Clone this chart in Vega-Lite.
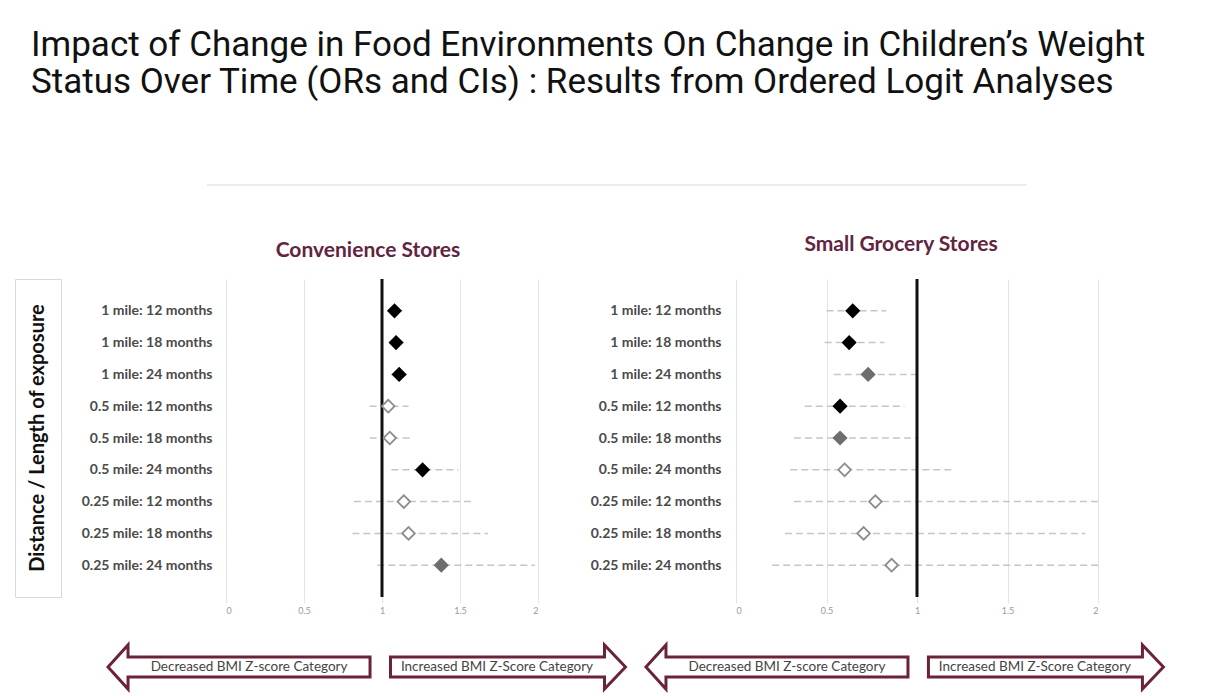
{
  "$schema": "https://vega.github.io/schema/vega-lite/v6.json",
  "padding": {"left": 14, "top": 28, "right": 5, "bottom": 5},
  "background": "white",
  "title": {
    "text": ["Impact of Change in Food Environments On Change in Children’s Weight", "Status Over Time (ORs and CIs) : Results from Ordered Logit Analyses"],
    "anchor": "start", "frame": "group",
    "font": "Roboto", "fontSize": 35, "fontWeight": "normal", "lineHeight": 37,
    "color": "#111111", "dx": 16, "offset": 84
  },
  "config": {"view": {"stroke": null}, "font": "Lato"},
  "datasets": {
    "one": [{"k": 1}],
    "or": [
      {"store": "Convenience Stores", "label": "1 mile: 12 months", "oddsRatio": 1.08, "ciLow": 1.04, "ciHigh": 1.13, "sig": "p<0.05"},
      {"store": "Convenience Stores", "label": "1 mile: 18 months", "oddsRatio": 1.09, "ciLow": 1.05, "ciHigh": 1.14, "sig": "p<0.05"},
      {"store": "Convenience Stores", "label": "1 mile: 24 months", "oddsRatio": 1.11, "ciLow": 1.06, "ciHigh": 1.16, "sig": "p<0.05"},
      {"store": "Convenience Stores", "label": "0.5 mile: 12 months", "oddsRatio": 1.04, "ciLow": 0.92, "ciHigh": 1.17, "sig": "ns"},
      {"store": "Convenience Stores", "label": "0.5 mile: 18 months", "oddsRatio": 1.05, "ciLow": 0.92, "ciHigh": 1.20, "sig": "ns"},
      {"store": "Convenience Stores", "label": "0.5 mile: 24 months", "oddsRatio": 1.26, "ciLow": 1.06, "ciHigh": 1.49, "sig": "p<0.05"},
      {"store": "Convenience Stores", "label": "0.25 mile: 12 months", "oddsRatio": 1.14, "ciLow": 0.82, "ciHigh": 1.57, "sig": "ns"},
      {"store": "Convenience Stores", "label": "0.25 mile: 18 months", "oddsRatio": 1.17, "ciLow": 0.81, "ciHigh": 1.68, "sig": "ns"},
      {"store": "Convenience Stores", "label": "0.25 mile: 24 months", "oddsRatio": 1.38, "ciLow": 0.97, "ciHigh": 1.98, "sig": "p<0.10"},
      {"store": "Small Grocery Stores", "label": "1 mile: 12 months", "oddsRatio": 0.645, "ciLow": 0.50, "ciHigh": 0.83, "sig": "p<0.05"},
      {"store": "Small Grocery Stores", "label": "1 mile: 18 months", "oddsRatio": 0.625, "ciLow": 0.49, "ciHigh": 0.82, "sig": "p<0.05"},
      {"store": "Small Grocery Stores", "label": "1 mile: 24 months", "oddsRatio": 0.73, "ciLow": 0.54, "ciHigh": 1.02, "sig": "p<0.10"},
      {"store": "Small Grocery Stores", "label": "0.5 mile: 12 months", "oddsRatio": 0.575, "ciLow": 0.38, "ciHigh": 0.93, "sig": "p<0.05"},
      {"store": "Small Grocery Stores", "label": "0.5 mile: 18 months", "oddsRatio": 0.575, "ciLow": 0.32, "ciHigh": 1.00, "sig": "p<0.10"},
      {"store": "Small Grocery Stores", "label": "0.5 mile: 24 months", "oddsRatio": 0.60, "ciLow": 0.30, "ciHigh": 1.20, "sig": "ns"},
      {"store": "Small Grocery Stores", "label": "0.25 mile: 12 months", "oddsRatio": 0.77, "ciLow": 0.32, "ciHigh": 2.00, "sig": "ns"},
      {"store": "Small Grocery Stores", "label": "0.25 mile: 18 months", "oddsRatio": 0.705, "ciLow": 0.27, "ciHigh": 1.93, "sig": "ns"},
      {"store": "Small Grocery Stores", "label": "0.25 mile: 24 months", "oddsRatio": 0.86, "ciLow": 0.20, "ciHigh": 2.00, "sig": "ns"}
    ],
    "arrows": [
      {"slot": "Convenience Stores / decreased", "direction": "decreased", "caption": "Decreased BMI Z-score Category"},
      {"slot": "Convenience Stores / increased", "direction": "increased", "caption": "Increased BMI Z-Score Category"},
      {"slot": "Small Grocery Stores / decreased", "direction": "decreased", "caption": "Decreased BMI Z-score Category"},
      {"slot": "Small Grocery Stores / increased", "direction": "increased", "caption": "Increased BMI Z-Score Category"}
    ]
  },
  "spacing": 24,
  "vconcat": [
    {
      "spacing": 14,
      "hconcat": [
        {"width": 177, "height": 24, "data": {"name": "one"}, "mark": {"type": "text", "text": ""}, "encoding": {}},
        {"width": 820, "height": 24, "data": {"name": "one"},
         "mark": {"type": "rule", "color": "#e6e6e6", "strokeWidth": 1.5},
         "encoding": {"y": {"datum": 1, "type": "quantitative", "scale": {"domain": [0, 1]}, "axis": null}}}
      ]
    },
    {
      "bounds": "flush",
      "spacing": 165,
      "hconcat": [
        {"width": 46, "height": 318, "data": {"name": "one"},
         "view": {"stroke": "#d9d9d9", "strokeWidth": 1},
         "mark": {"type": "text", "text": "Distance / Length of exposure", "angle": 270, "fontSize": 20, "fontWeight": "bold", "font": "Lato", "color": "#111111"},
         "encoding": {}},
        {
          "bounds": "flush",
          "spacing": 198,
          "hconcat": [
            {
              "width": 312, "height": 318,
              "data": {"name": "or"},
              "transform": [{"filter": "datum.store === 'Convenience Stores'"}],
              "title": {"text": "Convenience Stores", "dx": -14, "offset": 17, "fontSize": 21, "fontWeight": "bold", "color": "#62243f", "font": "Lato"},
              "layer": [
                {"mark": {"type": "rule", "strokeDash": [7, 4], "color": "#c6c6c6", "strokeWidth": 1.5},
                 "encoding": {
                   "x": {"field": "ciLow", "type": "quantitative", "scale": {"domain": [0, 2], "nice": false},
                         "axis": {"title": null, "values": [0, 0.5, 1, 1.5, 2], "format": "~g", "grid": true, "gridColor": "#e3e3e3", "domain": false, "ticks": true, "tickColor": "#e3e3e3", "tickSize": 6, "labelFontSize": 9, "labelColor": "#9a9a9a", "labelPadding": 3, "labelFont": "Lato"}},
                   "x2": {"field": "ciHigh"},
                   "y": {"field": "label", "type": "nominal", "sort": ["1 mile: 12 months", "1 mile: 18 months", "1 mile: 24 months", "0.5 mile: 12 months", "0.5 mile: 18 months", "0.5 mile: 24 months", "0.25 mile: 12 months", "0.25 mile: 18 months", "0.25 mile: 24 months"],
                         "scale": {"type": "point", "padding": 1},
                         "axis": {"title": null, "domain": false, "ticks": false, "grid": false, "labelFont": "Lato", "labelFontSize": 14, "labelFontWeight": "bold", "labelColor": "#4a4a4a", "labelPadding": 14}}
                 }},
                {"data": {"name": "one"}, "mark": {"type": "rule", "color": "#111111", "strokeWidth": 3},
                 "encoding": {"x": {"datum": 1, "type": "quantitative"}}},
                {"mark": {"type": "point", "shape": "diamond", "filled": true, "size": 160, "strokeWidth": 1.8, "opacity": 1},
                 "encoding": {
                   "x": {"field": "oddsRatio", "type": "quantitative"},
                   "y": {"field": "label", "type": "nominal", "sort": ["1 mile: 12 months", "1 mile: 18 months", "1 mile: 24 months", "0.5 mile: 12 months", "0.5 mile: 18 months", "0.5 mile: 24 months", "0.25 mile: 12 months", "0.25 mile: 18 months", "0.25 mile: 24 months"]},
                   "fill": {"field": "sig", "type": "nominal", "scale": {"domain": ["p<0.05", "p<0.10", "ns"], "range": ["#000000", "#6e6e6e", "#ffffff"]}, "legend": null},
                   "stroke": {"field": "sig", "type": "nominal", "scale": {"domain": ["p<0.05", "p<0.10", "ns"], "range": ["#000000", "#6e6e6e", "#8c8c8c"]}, "legend": null}
                 }}
              ]
            },
            {
              "width": 362, "height": 318,
              "data": {"name": "or"},
              "transform": [{"filter": "datum.store === 'Small Grocery Stores'"}],
              "title": {"text": "Small Grocery Stores", "dx": -16, "offset": 23, "fontSize": 21, "fontWeight": "bold", "color": "#62243f", "font": "Lato"},
              "layer": [
                {"mark": {"type": "rule", "strokeDash": [7, 4], "color": "#c6c6c6", "strokeWidth": 1.5},
                 "encoding": {
                   "x": {"field": "ciLow", "type": "quantitative", "scale": {"domain": [0, 2], "nice": false},
                         "axis": {"title": null, "values": [0, 0.5, 1, 1.5, 2], "format": "~g", "grid": true, "gridColor": "#e3e3e3", "domain": false, "ticks": true, "tickColor": "#e3e3e3", "tickSize": 6, "labelFontSize": 9, "labelColor": "#9a9a9a", "labelPadding": 3, "labelFont": "Lato"}},
                   "x2": {"field": "ciHigh"},
                   "y": {"field": "label", "type": "nominal", "sort": ["1 mile: 12 months", "1 mile: 18 months", "1 mile: 24 months", "0.5 mile: 12 months", "0.5 mile: 18 months", "0.5 mile: 24 months", "0.25 mile: 12 months", "0.25 mile: 18 months", "0.25 mile: 24 months"],
                         "scale": {"type": "point", "padding": 1},
                         "axis": {"title": null, "domain": false, "ticks": false, "grid": false, "labelFont": "Lato", "labelFontSize": 14, "labelFontWeight": "bold", "labelColor": "#4a4a4a", "labelPadding": 15}}
                 }},
                {"data": {"name": "one"}, "mark": {"type": "rule", "color": "#111111", "strokeWidth": 3},
                 "encoding": {"x": {"datum": 1, "type": "quantitative"}}},
                {"mark": {"type": "point", "shape": "diamond", "filled": true, "size": 160, "strokeWidth": 1.8, "opacity": 1},
                 "encoding": {
                   "x": {"field": "oddsRatio", "type": "quantitative"},
                   "y": {"field": "label", "type": "nominal", "sort": ["1 mile: 12 months", "1 mile: 18 months", "1 mile: 24 months", "0.5 mile: 12 months", "0.5 mile: 18 months", "0.5 mile: 24 months", "0.25 mile: 12 months", "0.25 mile: 18 months", "0.25 mile: 24 months"]},
                   "fill": {"field": "sig", "type": "nominal", "scale": {"domain": ["p<0.05", "p<0.10", "ns"], "range": ["#000000", "#6e6e6e", "#ffffff"]}, "legend": null},
                   "stroke": {"field": "sig", "type": "nominal", "scale": {"domain": ["p<0.05", "p<0.10", "ns"], "range": ["#000000", "#6e6e6e", "#8c8c8c"]}, "legend": null}
                 }}
              ]
            }
          ]
        }
      ]
    },
    {
      "width": 1170, "height": 40,
      "data": {"name": "arrows"},
      "encoding": {"x": {"field": "slot", "type": "nominal", "scale": {"type": "point", "padding": 0.675, "align": 0.617}, "axis": null}},
      "layer": [
        {"mark": {"type": "point", "filled": true, "fill": "#ffffff", "stroke": "#6b2437", "strokeWidth": 3, "size": 400, "opacity": 1},
         "encoding": {"shape": {"field": "direction", "type": "nominal",
           "scale": {"domain": ["decreased", "increased"], "range": ["M -13.1 0 L -11.1 -2.2 L -11.1 -1 L 13.1 -1 L 13.1 1 L -11.1 1 L -11.1 2.2 Z", "M 11.75 0 L 9.65 -2.2 L 9.65 -1 L -11.75 -1 L -11.75 1 L 9.65 1 L 9.65 2.2 Z"]},
           "legend": null}}},
        {"transform": [{"filter": "datum.direction === 'decreased'"}],
         "mark": {"type": "text", "dx": 10, "fontSize": 13.5, "color": "#444444", "font": "Lato"},
         "encoding": {"text": {"field": "caption"}}},
        {"transform": [{"filter": "datum.direction === 'increased'"}],
         "mark": {"type": "text", "dx": -11, "fontSize": 13.5, "color": "#444444", "font": "Lato"},
         "encoding": {"text": {"field": "caption"}}}
      ]
    }
  ]
}
